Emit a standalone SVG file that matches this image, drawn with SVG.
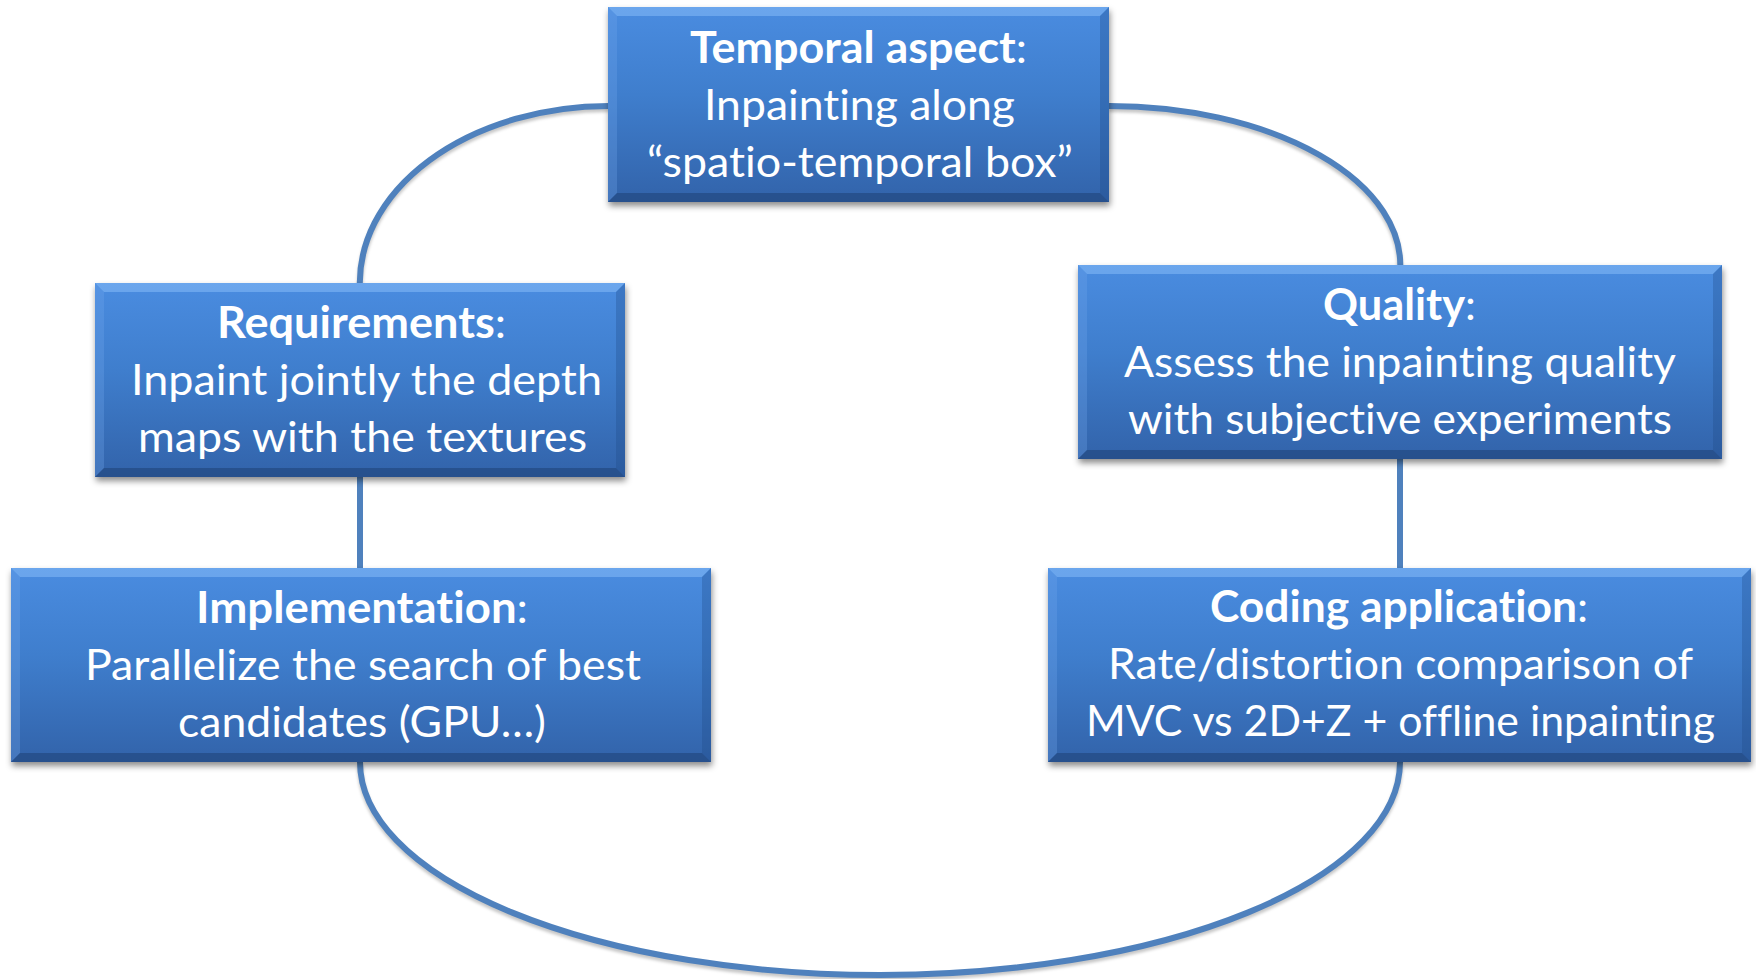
<svg xmlns="http://www.w3.org/2000/svg" width="1756" height="979" viewBox="0 0 1756 979">
<style>
.conn{fill:none;stroke:#4F81BD;stroke-width:6}
.connsh{fill:none;stroke:#000;stroke-opacity:.22;stroke-width:6}
.box{fill:url(#boxFill)}
.sh{fill:#000;fill-opacity:.45}
.bt{fill:#8CC0FA;fill-opacity:.5}
.bl{fill:#6FA6EC;fill-opacity:.3}
.br{fill:#1E4A86;fill-opacity:.3}
.bb{fill:#1B3D70;fill-opacity:.5}
.t{font-family:Lato,"Open Sans","Liberation Sans",sans-serif;font-size:43px;fill:#fff;font-variant-ligatures:none;font-feature-settings:"liga" 0,"clig" 0,"dlig" 0}
.b{font-weight:bold}
</style>
<defs>
<linearGradient id="boxFill" x1="0" y1="0" x2="0" y2="1">
<stop offset="0" stop-color="#4A8CE0"/>
<stop offset="0.45" stop-color="#3F7ECD"/>
<stop offset="1" stop-color="#3263AA"/>
</linearGradient>
<filter id="blur" x="-5%" y="-10%" width="110%" height="130%"><feGaussianBlur stdDeviation="3"/></filter>
<filter id="lblur" x="-5%" y="-10%" width="110%" height="130%"><feGaussianBlur stdDeviation="1.5"/></filter>
</defs>
<rect width="1756" height="979" fill="#fff"/>
<g id="connectors">
<g filter="url(#lblur)" transform="translate(0,3)">
<path class="connsh" d="M360 283 A249 177 0 0 1 609 106"/>
<path class="connsh" d="M1109 106 A291 159 0 0 1 1400 265"/>
<path class="connsh" d="M360 762 A520 213 0 0 0 1400 762"/>
</g>
<path class="conn" d="M360 290 A249 177 0 0 1 609 106"/>
<path class="conn" d="M1109 106 A291 159 0 0 1 1400 272"/>
<path class="conn" d="M360 470 L360 575"/>
<path class="conn" d="M1400 452 L1400 575"/>
<path class="conn" d="M360 755 L360 762 A520 213 0 0 0 1400 762 L1400 755"/>
</g>
<g id="temporal">
<rect class="sh" x="609" y="11" width="501" height="195" filter="url(#blur)"/>
<rect class="box" x="608" y="7" width="501" height="195"/>
<polygon class="bt" points="608,7 1109,7 1100,16 617,16"/>
<polygon class="bl" points="608,7 617,16 617,193 608,202"/>
<polygon class="br" points="1109,7 1109,202 1100,193 1100,16"/>
<polygon class="bb" points="608,202 617,193 1100,193 1109,202"/>
<text class="t" x="690" y="63" textLength="337" lengthAdjust="spacingAndGlyphs"><tspan class="b">Temporal aspect</tspan>:</text>
<text class="t" x="704" y="120" textLength="311" lengthAdjust="spacingAndGlyphs">Inpainting along</text>
<text class="t" x="647" y="177" textLength="426" lengthAdjust="spacingAndGlyphs">“spatio-temporal box”</text>
</g>
<g id="requirements">
<rect class="sh" x="96" y="287" width="530" height="194" filter="url(#blur)"/>
<rect class="box" x="95" y="283" width="530" height="194"/>
<polygon class="bt" points="95,283 625,283 616,292 104,292"/>
<polygon class="bl" points="95,283 104,292 104,468 95,477"/>
<polygon class="br" points="625,283 625,477 616,468 616,292"/>
<polygon class="bb" points="95,477 104,468 616,468 625,477"/>
<text class="t" x="217" y="338" textLength="289" lengthAdjust="spacingAndGlyphs"><tspan class="b">Requirements</tspan>:</text>
<text class="t" x="131" y="395" textLength="471" lengthAdjust="spacingAndGlyphs">Inpaint jointly the depth</text>
<text class="t" x="138" y="452" textLength="449" lengthAdjust="spacingAndGlyphs">maps with the textures</text>
</g>
<g id="implementation">
<rect class="sh" x="12" y="572" width="700" height="194" filter="url(#blur)"/>
<rect class="box" x="11" y="568" width="700" height="194"/>
<polygon class="bt" points="11,568 711,568 702,577 20,577"/>
<polygon class="bl" points="11,568 20,577 20,753 11,762"/>
<polygon class="br" points="711,568 711,762 702,753 702,577"/>
<polygon class="bb" points="11,762 20,753 702,753 711,762"/>
<text class="t" x="196" y="623" textLength="332" lengthAdjust="spacingAndGlyphs"><tspan class="b">Implementation</tspan>:</text>
<text class="t" x="85" y="680" textLength="556" lengthAdjust="spacingAndGlyphs">Parallelize the search of best</text>
<text class="t" x="178" y="737" textLength="368" lengthAdjust="spacingAndGlyphs">candidates (GPU…)</text>
</g>
<g id="quality">
<rect class="sh" x="1079" y="269" width="644" height="194" filter="url(#blur)"/>
<rect class="box" x="1078" y="265" width="644" height="194"/>
<polygon class="bt" points="1078,265 1722,265 1713,274 1087,274"/>
<polygon class="bl" points="1078,265 1087,274 1087,450 1078,459"/>
<polygon class="br" points="1722,265 1722,459 1713,450 1713,274"/>
<polygon class="bb" points="1078,459 1087,450 1713,450 1722,459"/>
<text class="t" x="1323" y="320" textLength="153" lengthAdjust="spacingAndGlyphs"><tspan class="b">Quality</tspan>:</text>
<text class="t" x="1124" y="377" textLength="552" lengthAdjust="spacingAndGlyphs">Assess the inpainting quality</text>
<text class="t" x="1128" y="434" textLength="544" lengthAdjust="spacingAndGlyphs">with subjective experiments</text>
</g>
<g id="coding">
<rect class="sh" x="1049" y="572" width="703" height="194" filter="url(#blur)"/>
<rect class="box" x="1048" y="568" width="703" height="194"/>
<polygon class="bt" points="1048,568 1751,568 1742,577 1057,577"/>
<polygon class="bl" points="1048,568 1057,577 1057,753 1048,762"/>
<polygon class="br" points="1751,568 1751,762 1742,753 1742,577"/>
<polygon class="bb" points="1048,762 1057,753 1742,753 1751,762"/>
<text class="t" x="1210" y="622" textLength="378" lengthAdjust="spacingAndGlyphs"><tspan class="b">Coding application</tspan>:</text>
<text class="t" x="1108" y="679" textLength="585" lengthAdjust="spacingAndGlyphs">Rate/distortion comparison of</text>
<text class="t" x="1086" y="736" textLength="629" lengthAdjust="spacingAndGlyphs">MVC vs 2D+Z + offline inpainting</text>
</g>
</svg>
